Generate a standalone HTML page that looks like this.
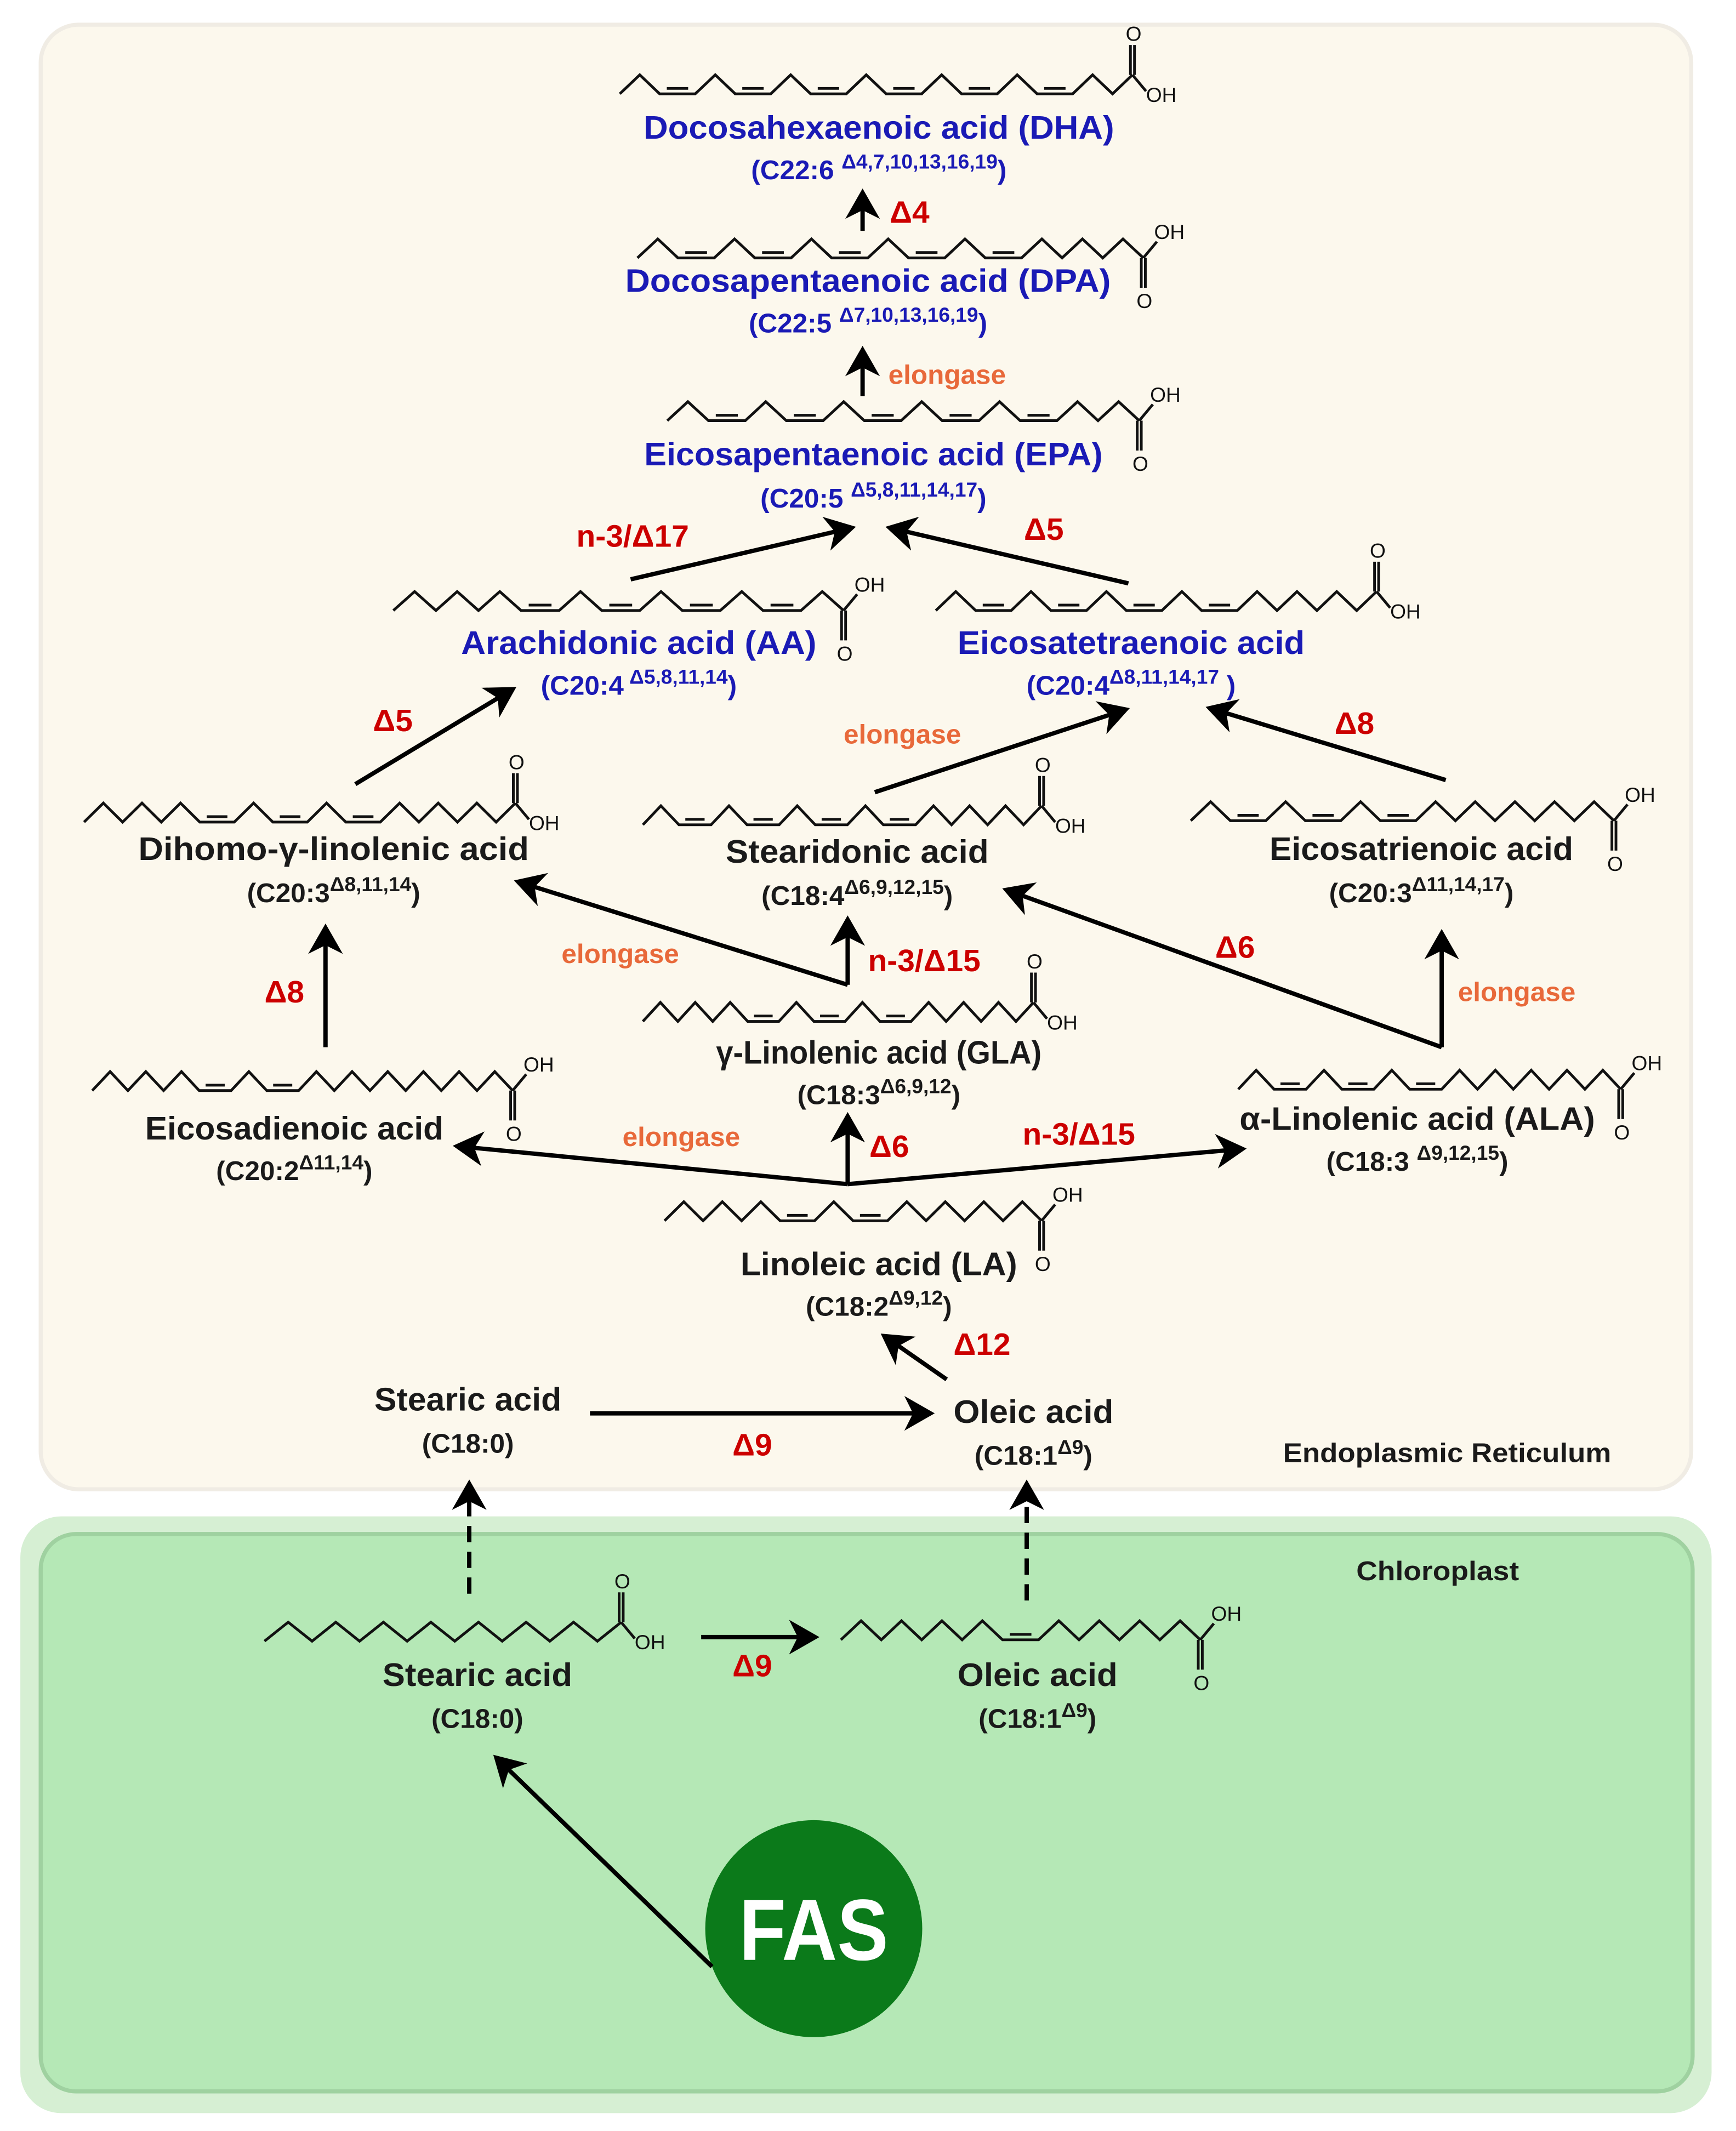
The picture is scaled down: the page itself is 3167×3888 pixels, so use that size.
<!DOCTYPE html>
<html><head><meta charset="utf-8"><style>
html,body{margin:0;padding:0;background:#fff}
svg{display:block}
text{font-family:"Liberation Sans",sans-serif;font-weight:bold}
.n{font-size:24px;fill:#1a1a1a}
.f{font-size:20px;fill:#1a1a1a}
.b{fill:#1a1ab5}
.s{font-size:15px}
.r{font-size:23px;fill:#cc0000}
.o{font-size:20px;fill:#e8693a}
.ch{fill:none;stroke:#111;stroke-width:2;stroke-linejoin:miter}
.ar{stroke:#000;stroke-width:3.2;fill:none}
.at{font-size:15px;font-weight:normal;fill:#111}
</style></head><body>
<svg id="s" width="3167" height="3888" viewBox="0 0 1280 1571" xmlns="http://www.w3.org/2000/svg">
<defs><marker id="m" markerWidth="8" markerHeight="8" refX="6" refY="4" orient="auto" markerUnits="strokeWidth"><path d="M0,0 L7,4 L0,8 L2,4 z" fill="#000"/></marker></defs>
<rect x="0" y="0" width="1280" height="1571" fill="#fff"/>
<rect x="30" y="18" width="1217" height="1080" rx="28" fill="#fcf8ed" stroke="#f0ece4" stroke-width="3"/>
<rect x="15" y="1118" width="1247" height="440" rx="30" fill="#d6efd3"/>
<rect x="30" y="1131" width="1218" height="411" rx="26" fill="#b5e8b6" stroke="#9fd1a0" stroke-width="3"/>
<circle cx="600" cy="1422" r="80" fill="#0b7a1a"/>
<text x="600" y="1445" text-anchor="middle" style="font-size:64px;fill:#fff" textLength="110" lengthAdjust="spacingAndGlyphs">FAS</text>
<g id="chains"></g>

<text class="n b" x="648" y="102" text-anchor="middle" textLength="347" lengthAdjust="spacingAndGlyphs">Docosahexaenoic acid (DHA)</text>
<text class="f b" x="648" y="132" text-anchor="middle">(C22:6 <tspan class="s" dy="-8">Δ4,7,10,13,16,19</tspan><tspan dy="8">)</tspan></text>
<text class="n b" x="640" y="215" text-anchor="middle" textLength="358" lengthAdjust="spacingAndGlyphs">Docosapentaenoic acid (DPA)</text>
<text class="f b" x="640" y="245" text-anchor="middle">(C22:5 <tspan class="s" dy="-8">Δ7,10,13,16,19</tspan><tspan dy="8">)</tspan></text>
<text class="n b" x="644" y="343" text-anchor="middle" textLength="338" lengthAdjust="spacingAndGlyphs">Eicosapentaenoic acid (EPA)</text>
<text class="f b" x="644" y="374" text-anchor="middle">(C20:5 <tspan class="s" dy="-8">Δ5,8,11,14,17</tspan><tspan dy="8">)</tspan></text>
<text class="n b" x="471" y="482" text-anchor="middle" textLength="262" lengthAdjust="spacingAndGlyphs">Arachidonic acid (AA)</text>
<text class="f b" x="471" y="512" text-anchor="middle">(C20:4<tspan class="s" dy="-8"> Δ5,8,11,14</tspan><tspan dy="8">)</tspan></text>
<text class="n b" x="834" y="482" text-anchor="middle" textLength="256" lengthAdjust="spacingAndGlyphs">Eicosatetraenoic acid</text>
<text class="f b" x="834" y="512" text-anchor="middle">(C20:4<tspan class="s" dy="-8">Δ8,11,14,17</tspan><tspan dy="8"> )</tspan></text>
<text class="n" x="246" y="634" text-anchor="middle" textLength="288" lengthAdjust="spacingAndGlyphs">Dihomo-γ-linolenic acid</text>
<text class="f" x="246" y="665" text-anchor="middle">(C20:3<tspan class="s" dy="-8">Δ8,11,14</tspan><tspan dy="8">)</tspan></text>
<text class="n" x="632" y="636" text-anchor="middle" textLength="194" lengthAdjust="spacingAndGlyphs">Stearidonic acid</text>
<text class="f" x="632" y="667" text-anchor="middle">(C18:4<tspan class="s" dy="-8">Δ6,9,12,15</tspan><tspan dy="8">)</tspan></text>
<text class="n" x="1048" y="634" text-anchor="middle" textLength="224" lengthAdjust="spacingAndGlyphs">Eicosatrienoic acid</text>
<text class="f" x="1048" y="665" text-anchor="middle">(C20:3<tspan class="s" dy="-8">Δ11,14,17</tspan><tspan dy="8">)</tspan></text>
<text class="n" x="648" y="784" text-anchor="middle" textLength="240" lengthAdjust="spacingAndGlyphs">γ-Linolenic acid (GLA)</text>
<text class="f" x="648" y="814" text-anchor="middle">(C18:3<tspan class="s" dy="-8">Δ6,9,12</tspan><tspan dy="8">)</tspan></text>
<text class="n" x="217" y="840" text-anchor="middle" textLength="220" lengthAdjust="spacingAndGlyphs">Eicosadienoic acid</text>
<text class="f" x="217" y="870" text-anchor="middle">(C20:2<tspan class="s" dy="-8">Δ11,14</tspan><tspan dy="8">)</tspan></text>
<text class="n" x="1045" y="833" text-anchor="middle" textLength="262" lengthAdjust="spacingAndGlyphs">α-Linolenic acid (ALA)</text>
<text class="f" x="1045" y="863" text-anchor="middle">(C18:3 <tspan class="s" dy="-8">Δ9,12,15</tspan><tspan dy="8">)</tspan></text>
<text class="n" x="648" y="940" text-anchor="middle" textLength="204" lengthAdjust="spacingAndGlyphs">Linoleic acid (LA)</text>
<text class="f" x="648" y="970" text-anchor="middle">(C18:2<tspan class="s" dy="-8">Δ9,12</tspan><tspan dy="8">)</tspan></text>
<text class="n" x="345" y="1040" text-anchor="middle" textLength="138" lengthAdjust="spacingAndGlyphs">Stearic acid</text>
<text class="f" x="345" y="1071" text-anchor="middle">(C18:0)</text>
<text class="n" x="762" y="1049" text-anchor="middle" textLength="118" lengthAdjust="spacingAndGlyphs">Oleic acid</text>
<text class="f" x="762" y="1080" text-anchor="middle">(C18:1<tspan class="s" dy="-8">Δ9</tspan><tspan dy="8">)</tspan></text>
<text x="1067" y="1078" text-anchor="middle" style="font-size:20px;fill:#1a1a1a" textLength="242" lengthAdjust="spacingAndGlyphs">Endoplasmic Reticulum</text>
<text x="1060" y="1165" text-anchor="middle" style="font-size:20px;fill:#1a1a1a" textLength="120" lengthAdjust="spacingAndGlyphs">Chloroplast</text>
<text class="n" x="352" y="1243" text-anchor="middle" textLength="140" lengthAdjust="spacingAndGlyphs">Stearic acid</text>
<text class="f" x="352" y="1274" text-anchor="middle">(C18:0)</text>
<text class="n" x="765" y="1243" text-anchor="middle" textLength="118" lengthAdjust="spacingAndGlyphs">Oleic acid</text>
<text class="f" x="765" y="1274" text-anchor="middle">(C18:1<tspan class="s" dy="-8">Δ9</tspan><tspan dy="8">)</tspan></text>

<text class="r" x="656" y="164">Δ4</text>
<text class="o" x="655" y="283">elongase</text>
<text class="r" x="425" y="403">n-3/Δ17</text>
<text class="r" x="755" y="398">Δ5</text>
<text class="r" x="275" y="539">Δ5</text>
<text class="o" x="622" y="548">elongase</text>
<text class="r" x="984" y="541">Δ8</text>
<text class="r" x="195" y="739">Δ8</text>
<text class="o" x="414" y="710">elongase</text>
<text class="r" x="640" y="716">n-3/Δ15</text>
<text class="r" x="896" y="706">Δ6</text>
<text class="o" x="1075" y="738">elongase</text>
<text class="o" x="459" y="845">elongase</text>
<text class="r" x="641" y="853">Δ6</text>
<text class="r" x="754" y="844">n-3/Δ15</text>
<text class="r" x="703" y="999">Δ12</text>
<text class="r" x="540" y="1073">Δ9</text>
<text class="r" x="540" y="1236">Δ9</text>

<g class="ar" marker-end="url(#m)">
<line x1="636" y1="170" x2="636" y2="142"/>
<line x1="636" y1="292" x2="636" y2="258"/>
<line x1="465" y1="427" x2="628" y2="389"/>
<line x1="832" y1="430" x2="656" y2="389"/>
<line x1="262" y1="578" x2="378" y2="508"/>
<line x1="645" y1="584" x2="830" y2="523"/>
<line x1="1066" y1="575" x2="892" y2="522"/>
<line x1="240" y1="772" x2="240" y2="684"/>
<line x1="625" y1="726" x2="382" y2="650"/>
<line x1="625" y1="726" x2="625" y2="678"/>
<line x1="1063" y1="772" x2="742" y2="656"/>
<line x1="1063" y1="772" x2="1063" y2="688"/>
<line x1="625" y1="873" x2="337" y2="845"/>
<line x1="625" y1="873" x2="625" y2="823"/>
<line x1="625" y1="873" x2="916" y2="847"/>
<line x1="698" y1="1017" x2="652" y2="985"/>
<line x1="435" y1="1042" x2="686" y2="1042"/>
<line x1="517" y1="1207" x2="601" y2="1207"/>
<line x1="525" y1="1450" x2="366" y2="1296"/>
<line x1="346" y1="1175" x2="346" y2="1094" stroke-dasharray="12,7"/>
<line x1="757" y1="1180" x2="757" y2="1094" stroke-dasharray="12,7"/>
</g>
</svg>
<script>
var g=document.getElementById('chains'),NS='http://www.w3.org/2000/svg';
function el(t,a){var e=document.createElementNS(NS,t);for(var k in a)e.setAttribute(k,a[k]);g.appendChild(e);return e;}
function chain(x0,x1,y,pat,mode){
 var D=14,F=25,tot=0,i;
 for(i=0;i<pat.length;i++)tot+=(pat[i]=='='?F:D);
 var k=(x1-x0)/tot,h=7,x=x0,cy=y+h,pts=[[x,cy]],dbls=[];
 for(i=0;i<pat.length;i++){var c=pat[i];
  if(c=='u'){x+=D*k;cy=y-h;}else if(c=='d'){x+=D*k;cy=y+h;}else{var xs=x;x+=F*k;dbls.push([xs,x,cy]);}
  pts.push([x,cy]);}
 el('polyline',{points:pts.map(function(p){return p[0].toFixed(1)+','+p[1]}).join(' '),'class':'ch'});
 dbls.forEach(function(d){var w=d[1]-d[0];el('line',{x1:d[0]+w*.2,y1:d[2]-4,x2:d[1]-w*.2,y2:d[2]-4,'class':'ch'});});
 var e=pts[pts.length-1],t;
 if(mode=='up'){
  el('line',{x1:e[0]-1.5,y1:e[1],x2:e[0]-1.5,y2:e[1]-22,'class':'ch'});
  el('line',{x1:e[0]+1.5,y1:e[1],x2:e[0]+1.5,y2:e[1]-22,'class':'ch'});
  el('line',{x1:e[0],y1:e[1],x2:e[0]+10,y2:e[1]+12,'class':'ch'});
  t=el('text',{x:e[0]-5,y:e[1]-25,'class':'at'});t.textContent='O';
  t=el('text',{x:e[0]+10,y:e[1]+20,'class':'at'});t.textContent='OH';}
 else{
  el('line',{x1:e[0]-1.5,y1:e[1],x2:e[0]-1.5,y2:e[1]+22,'class':'ch'});
  el('line',{x1:e[0]+1.5,y1:e[1],x2:e[0]+1.5,y2:e[1]+22,'class':'ch'});
  el('line',{x1:e[0],y1:e[1],x2:e[0]+10,y2:e[1]-12,'class':'ch'});
  t=el('text',{x:e[0]-5,y:e[1]+37,'class':'at'});t.textContent='O';
  t=el('text',{x:e[0]+8,y:e[1]-14,'class':'at'});t.textContent='OH';}
}
function rep(s,n){var r='';for(var i=0;i<n;i++)r+=s;return r;}
chain(457,835,62,rep('ud=',6)+'udu','up');
chain(470,843,183,rep('ud=',5)+'ududud','down');
chain(492,840,303,rep('ud=',5)+'udud','down');
chain(290,622,443,'ududud'+rep('=ud',4),'down');
chain(690,1015,443,rep('ud=',4)+'udududu','up');
chain(62,380,599,'ududud=ud=ud=udududu','up');
chain(474,768,601,rep('ud=',4)+'udududu','up');
chain(878,1190,598,rep('ud=',3)+'ududududud','down');
chain(474,762,746,'ududud=ud=ud=udududu','up');
chain(68,378,797,'ududud=ud=udududududud','down');
chain(913,1195,796,rep('ud=',3)+'ududududud','down');
chain(490,768,893,'ududud=ud=udududud','down');
chain(195,458,1203,'udududududududu','up');
chain(620,885,1202,'udududud=udududud','down');
</script>
</body></html>
